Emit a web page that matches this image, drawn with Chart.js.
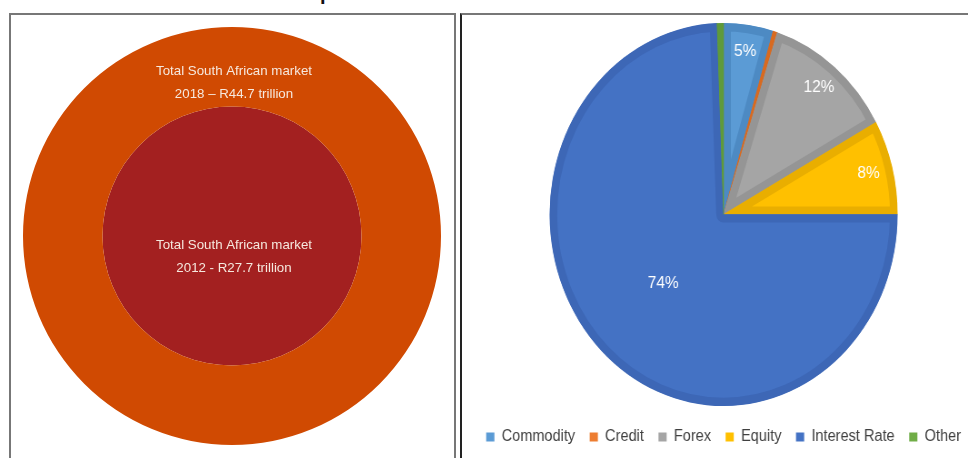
<!DOCTYPE html>
<html lang="en">
<head>
<meta charset="UTF-8">
<title>South African market</title>
<script src="https://cdn.jsdelivr.net/npm/chart.js@4.4.0/dist/chart.umd.min.js"></script>
<style>
  body { margin: 0; width: 968px; height: 458px; overflow: hidden; background: #fff; font-family: Arial, "Liberation Sans", sans-serif; }
  .frag { position: absolute; left: 320px; top: -17px; font: bold 20px/20px Arial, "Liberation Sans", sans-serif; color: #111; }
  .panel { position: absolute; top: 13px; height: 460px; box-sizing: border-box; }
  .left { left: 9px; width: 447px; border: 2px solid #777; border-bottom: none; }
  .right { left: 460px; width: 520px; border-top: 2px solid #777; border-left: 2px solid #222; }
  #market { position: absolute; left: 23px; top: 27px; }
  #split { position: absolute; left: 461px; top: 16px; transform-origin: 0 0; transform: scaleX(0.9086); }
</style>
</head>
<body>
  <div class="frag">p</div>
  <div class="panel left"></div>
  <div class="panel right"></div>
  <canvas id="market" width="418" height="418"></canvas>
  <canvas id="split" width="578" height="439"></canvas>

  <script>
    // market size, R trillion
    const years = ['2018', '2012'];
    const marketSize = [44.7, 27.7];
    const marketColors = ['#D04A02', '#A32020'];

    // share of turnover by asset class, %
    const assetClasses = ['Commodity', 'Credit', 'Forex', 'Equity', 'Interest Rate', 'Other'];
    const shares = [4.6, 0.4, 12, 8, 74.4, 0.6];
    const fillColors = ['#5B9BD5', '#ED7D31', '#A5A5A5', '#FFC000', '#4472C4', '#70AD47'];
    const edgeColors = ['#4D8AC3', '#D86A20', '#959595', '#E9AE00', '#3D67B6', '#5F9A3A'];

    const FONT = 'Arial, "Liberation Sans", sans-serif';

    // text on the two circles
    const marketText = {
      id: 'marketText',
      afterDraw(chart) {
        const ctx = chart.ctx;
        const outer = chart.getDatasetMeta(0).data[0];
        ctx.save();
        ctx.fillStyle = '#f6e8de';
        ctx.font = '13.3px ' + FONT;
        ctx.textAlign = 'center';
        ctx.textBaseline = 'middle';
        const x = outer.x + 2;
        let y = outer.y - outer.outerRadius + 44;
        ctx.fillText('Total South African market', x, y);
        ctx.fillText(years[0] + ' \u2013 R' + marketSize[0] + ' trillion', x, y + 23);
        y = outer.y + 9;
        ctx.fillText('Total South African market', x, y);
        ctx.fillText(years[1] + ' - R' + marketSize[1] + ' trillion', x, y + 23);
        ctx.restore();
      }
    };

    new Chart(document.getElementById('market'), {
      type: 'pie',
      data: {
        labels: ['market'],
        datasets: [
          { data: [marketSize[0]], weight: marketSize[0] - marketSize[1], backgroundColor: marketColors[0], borderWidth: 0 },
          { data: [marketSize[1]], weight: marketSize[1], backgroundColor: marketColors[1], borderWidth: 0 }
        ]
      },
      options: {
        responsive: false,
        animation: false,
        plugins: { legend: { display: false }, tooltip: { enabled: false } }
      },
      plugins: [marketText]
    });

    // percent labels on the slices
    const sliceLabels = {
      id: 'sliceLabels',
      afterDatasetsDraw(chart) {
        const ctx = chart.ctx;
        ctx.save();
        ctx.fillStyle = '#ffffff';
        ctx.font = '17px ' + FONT;
        ctx.textAlign = 'center';
        ctx.textBaseline = 'middle';
        chart.getDatasetMeta(0).data.forEach((arc, i) => {
          if (shares[i] < 2) return;
          const mid = (arc.startAngle + arc.endAngle) / 2;
          const r = arc.outerRadius * (shares[i] > 50 ? 0.5 : 0.86);
          ctx.fillText(Math.round(shares[i]) + '%', arc.x + Math.cos(mid) * r, arc.y + Math.sin(mid) * r);
        });
        ctx.restore();
      }
    };

    new Chart(document.getElementById('split'), {
      type: 'pie',
      data: {
        labels: assetClasses,
        datasets: [{
          data: shares,
          backgroundColor: fillColors,
          borderColor: edgeColors,
          borderWidth: 8,
          borderAlign: 'inner'
        }]
      },
      options: {
        responsive: false,
        animation: false,
        radius: 191.5,
        layout: { padding: 0 },
        plugins: {
          tooltip: { enabled: false },
          legend: {
            position: 'bottom',
            labels: {
              boxWidth: 9,
              boxHeight: 9,
              padding: 16,
              color: '#404040',
              font: { size: 16, family: FONT },
              generateLabels(chart) {
                return Chart.overrides.doughnut.plugins.legend.labels.generateLabels(chart)
                  .map(l => ({ ...l, lineWidth: 0, strokeStyle: l.fillStyle }));
              }
            }
          }
        }
      },
      plugins: [sliceLabels]
    });
  </script>
</body>
</html>
